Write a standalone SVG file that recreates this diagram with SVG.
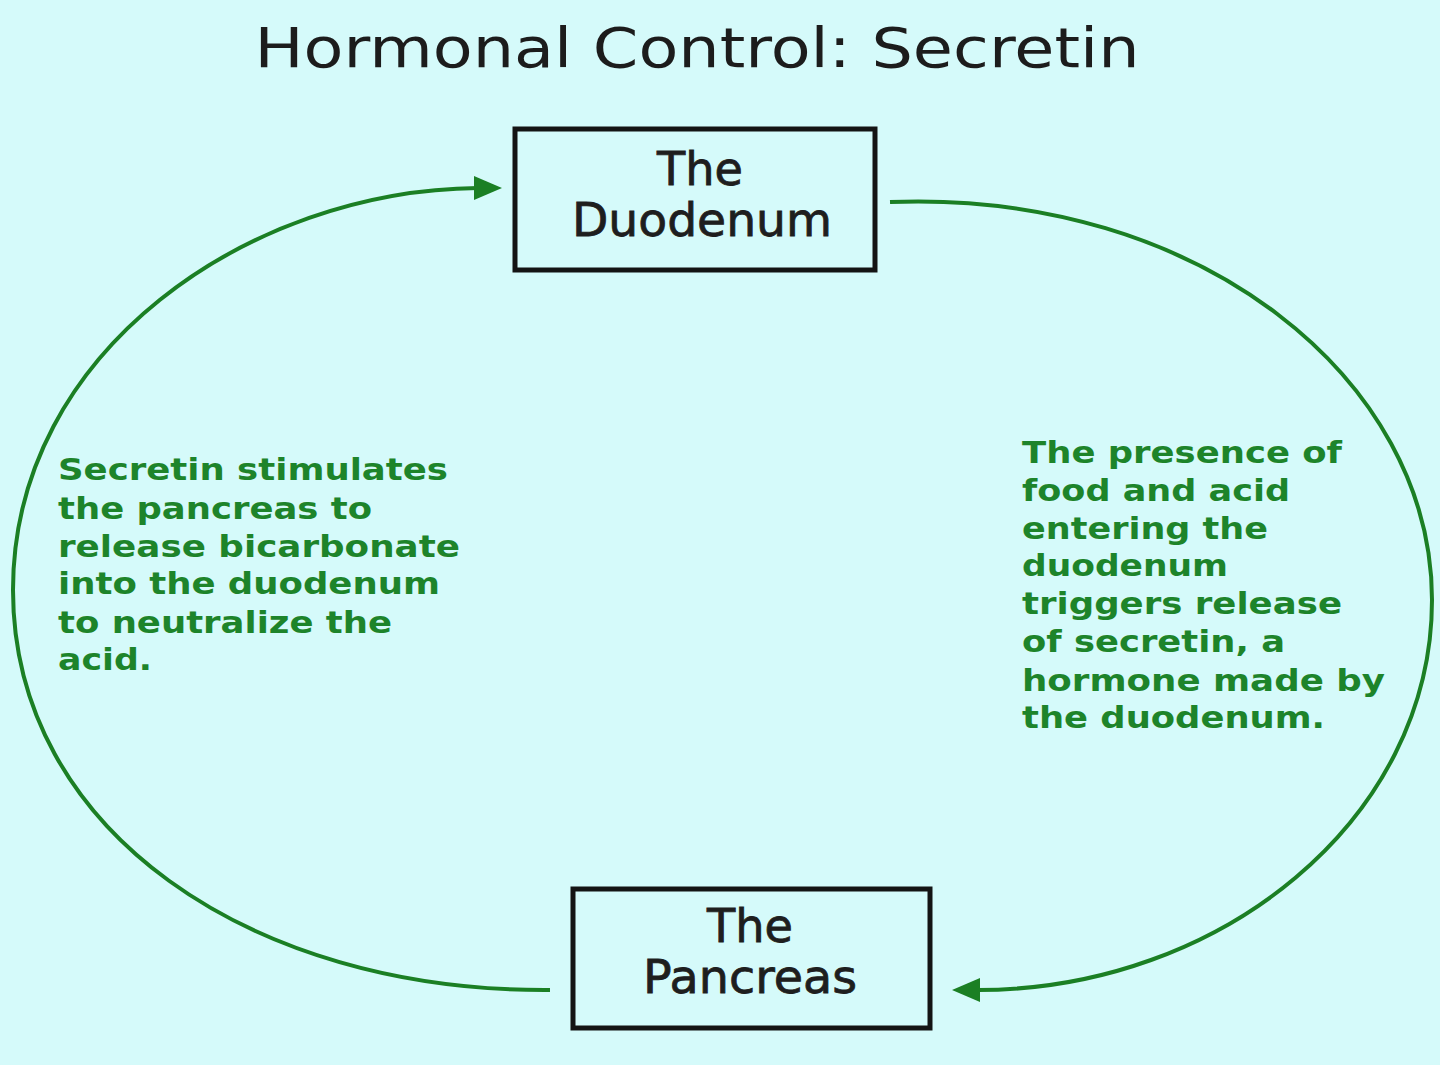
<svg xmlns="http://www.w3.org/2000/svg" width="1440" height="1065" viewBox="0 0 1440 1065">
<style>
.title{font-family:"DejaVu Sans",Verdana,sans-serif;font-size:56px;fill:#1c1c1c}
.node rect{fill:none;stroke:#141414;stroke-width:5}
.node text{font-family:"DejaVu Sans",Verdana,sans-serif;font-size:46px;fill:#1e1e1e;stroke:#1e1e1e;stroke-width:0.8;text-anchor:middle}
.lbl{font-family:"DejaVu Sans",Verdana,sans-serif;font-size:31px;font-weight:bold;fill:#1d842a}
.conn path{fill:none;stroke:#1b7f24;stroke-width:4}
</style>
<rect width="1440" height="1065" fill="#d5fafa"/>
<text class="title" x="697" y="67" text-anchor="middle" textLength="885" lengthAdjust="spacingAndGlyphs">Hormonal Control: Secretin</text>
<g class="conn">
<path d="M550,990 C250,992 13,830 13,590 C13,350 250,190 478,188"/>
<path d="M890,202 C1200,190 1432,380 1432,600 C1432,820 1220,990 978,990"/>
<polygon points="502,188 474,176 474,200" fill="#1b7f24"/>
<polygon points="952,990 980,978 980,1002" fill="#1b7f24"/>
</g>
<g id="duodenum" class="node">
<rect x="515" y="129" width="360" height="141"/>
<text x="700" y="185" textLength="86" lengthAdjust="spacingAndGlyphs">The</text>
<text x="702" y="236" textLength="260" lengthAdjust="spacingAndGlyphs">Duodenum</text>
</g>
<g id="pancreas" class="node">
<rect x="573" y="889" width="357" height="139"/>
<text x="750" y="942" textLength="86" lengthAdjust="spacingAndGlyphs">The</text>
<text x="750" y="993" textLength="214" lengthAdjust="spacingAndGlyphs">Pancreas</text>
</g>
<g id="label-left">
<text class="lbl" x="58" y="480" textLength="390" lengthAdjust="spacingAndGlyphs">Secretin stimulates</text>
<text class="lbl" x="58" y="519" textLength="314" lengthAdjust="spacingAndGlyphs">the pancreas to</text>
<text class="lbl" x="58" y="557" textLength="402" lengthAdjust="spacingAndGlyphs">release bicarbonate</text>
<text class="lbl" x="58" y="594" textLength="382" lengthAdjust="spacingAndGlyphs">into the duodenum</text>
<text class="lbl" x="58" y="633" textLength="334" lengthAdjust="spacingAndGlyphs">to neutralize the</text>
<text class="lbl" x="58" y="670" textLength="94" lengthAdjust="spacingAndGlyphs">acid.</text>
</g>
<g id="label-right">
<text class="lbl" x="1022" y="463" textLength="320" lengthAdjust="spacingAndGlyphs">The presence of</text>
<text class="lbl" x="1022" y="501" textLength="268" lengthAdjust="spacingAndGlyphs">food and acid</text>
<text class="lbl" x="1022" y="539" textLength="246" lengthAdjust="spacingAndGlyphs">entering the</text>
<text class="lbl" x="1022" y="576" textLength="206" lengthAdjust="spacingAndGlyphs">duodenum</text>
<text class="lbl" x="1022" y="614" textLength="320" lengthAdjust="spacingAndGlyphs">triggers release</text>
<text class="lbl" x="1022" y="652" textLength="263" lengthAdjust="spacingAndGlyphs">of secretin, a</text>
<text class="lbl" x="1022" y="691" textLength="363" lengthAdjust="spacingAndGlyphs">hormone made by</text>
<text class="lbl" x="1022" y="728" textLength="303" lengthAdjust="spacingAndGlyphs">the duodenum.</text>
</g>
</svg>
